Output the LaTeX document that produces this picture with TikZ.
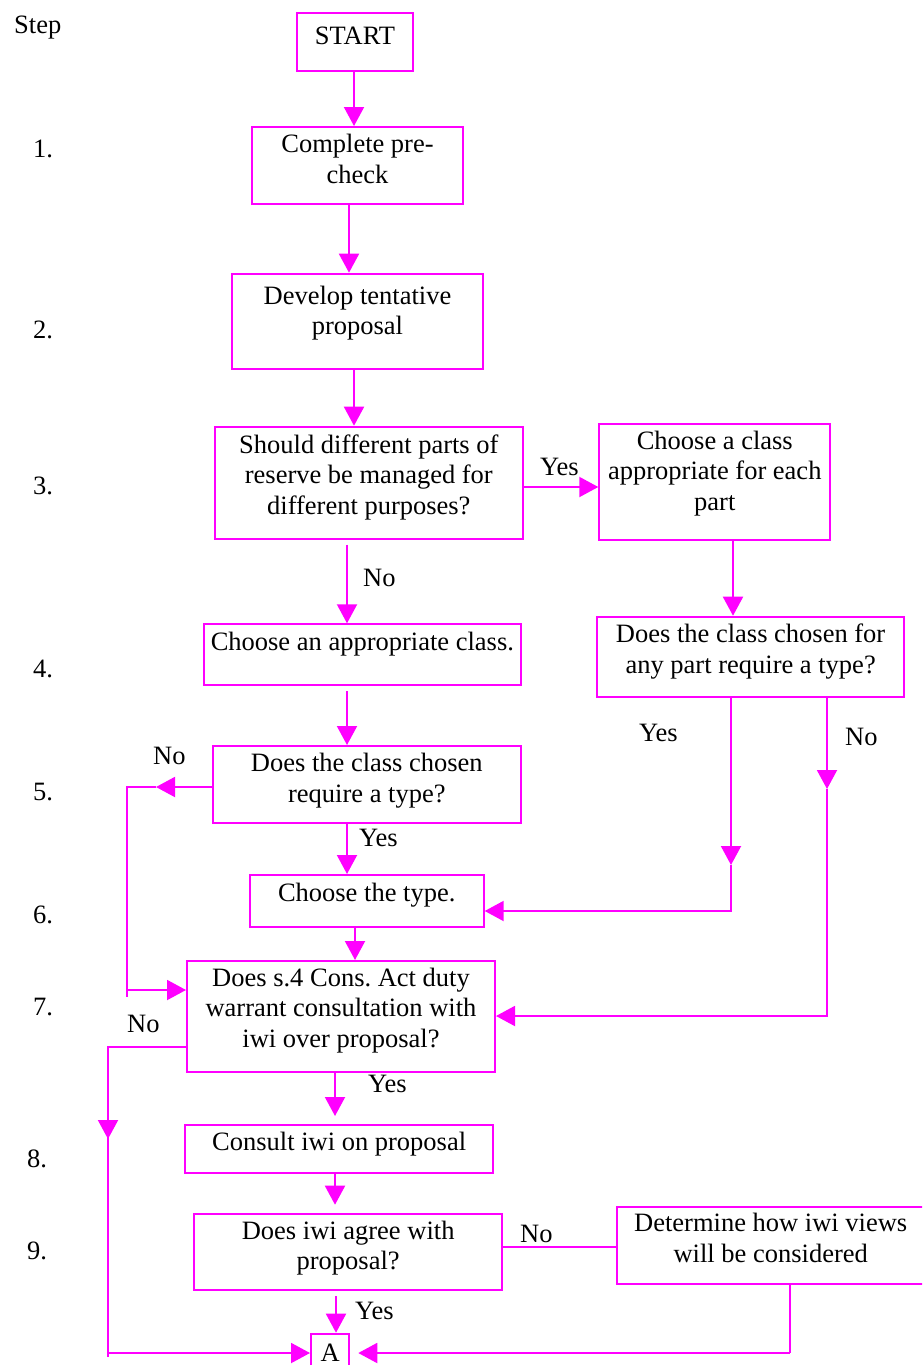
\documentclass[tikz,border=0pt]{standalone}
\usepackage{fontspec}
\setmainfont{Liberation Serif}
\usetikzlibrary{arrows.meta,calc}
\definecolor{mag}{RGB}{255,0,255}
\tikzset{
  boxst/.style={draw=mag, line width=2pt, inner sep=0pt, font=\fontsize{26.5}{30.5}\selectfont\frenchspacing},
  lbl/.style={anchor=base west, inner sep=0pt, font=\fontsize{26.5}{30.5}\selectfont},
  conn/.style={draw=mag, line width=2pt},
  arr/.style={conn, -{Triangle[length=19pt,width=20pt]}}
}
\newcommand\flowbox[7]{\node[boxst, anchor=north west] (#1) at (#2,#3) {\parbox[t][#5pt][t]{#4pt}{\centering\rule{0pt}{#6pt}#7}};}
\begin{document}
\begin{tikzpicture}[x=1pt,y=-1pt]
\useasboundingbox (0,0) rectangle (922,1365);
\clip (0,0) rectangle (922,1365);
% boxes
\flowbox{start}{296}{12.3}{116}{58}{31}{START}
\flowbox{pre}{250.7}{126}{211.6}{76.7}{25.7}{Complete pre-\\check}
\flowbox{dev}{231.2}{272.7}{250.5}{95.6}{30.6}{Develop tentative\\proposal}
\flowbox{q3}{214}{425.7}{307.7}{112}{26.3}{Should different parts of\\reserve be managed for\\different purposes?}
\flowbox{multi}{598.3}{423.3}{231}{115.7}{25}{Choose a class\\appropriate for each\\part}
\flowbox{cls}{202.7}{623.3}{317.3}{61}{26}{Choose an appropriate class.}
\flowbox{q4r}{596}{615.7}{307.3}{80.3}{26}{Does the class chosen for\\any part require a type?}
\flowbox{q5}{211.7}{745}{308.3}{76.7}{25.7}{Does the class chosen\\require a type?}
\flowbox{type}{248.7}{874}{234}{52}{26}{Choose the type.}
\flowbox{q7}{186}{960}{308}{110.7}{25}{Does s.4 Cons. Act duty\\warrant consultation with\\iwi over proposal?}
\flowbox{consult}{184}{1124}{308.3}{47.7}{25.3}{Consult iwi on proposal}
\flowbox{agree}{193.3}{1212.7}{307.7}{76.7}{25.6}{Does iwi agree with\\proposal?}
\flowbox{det}{615.7}{1205.7}{308}{77}{25}{Determine how iwi views\\will be considered}
\flowbox{A}{310}{1332.7}{38.3}{45}{27.5}{A}
% step labels
\node[lbl] (s0) at (14,33) {Step};
\node[lbl] (s1) at (33,157) {1.};
\node[lbl] (s2) at (33,338) {2.};
\node[lbl] (s3) at (33,494) {3.};
\node[lbl] (s4) at (33,677) {4.};
\node[lbl] (s5) at (33,800) {5.};
\node[lbl] (s6) at (33,923) {6.};
\node[lbl] (s7) at (33,1015) {7.};
\node[lbl] (s8) at (27,1167) {8.};
\node[lbl] (s9) at (27,1259) {9.};
% yes/no labels
\node[lbl] (l1) at (540,475) {Yes};
\node[lbl] (l2) at (363,586) {No};
\node[lbl] (l3) at (639,741) {Yes};
\node[lbl] (l4) at (845,745) {No};
\node[lbl] (l5) at (153,764) {No};
\node[lbl] (l6) at (359,846) {Yes};
\node[lbl] (l7) at (127,1032) {No};
\node[lbl] (l8) at (368,1092) {Yes};
\node[lbl] (l9) at (355,1319) {Yes};
\node[lbl] (l10) at (520,1242) {No};
% helper coordinates
\coordinate (y8) at (731,865);
\coordinate (y8b) at (731,911);
\coordinate (n9) at (827,789);
\coordinate (n9b) at (827,1016);
\coordinate (n10) at (156,787);
\coordinate (n10b) at (127,787);
\coordinate (n10c) at (127,997);
\coordinate (n10d) at (127,990);
\coordinate (n12) at (108,1047);
\coordinate (n12a) at (108,1139);
\coordinate (n12b) at (108,1357);
\coordinate (n12c) at (108,1353);
\coordinate (d17) at (790,1353);
% connectors
\draw[arr] (start.south -| 354,0) -- (pre.north -| 354,0);
\draw[arr] (pre.south -| 349,0) -- (dev.north -| 349,0);
\draw[arr] (dev.south -| 354,0) -- (q3.north -| 354,0);
\draw[arr] (q3.east |- 0,487) -- (multi.west |- 0,487);
\draw[arr, shorten <=5pt] (q3.south -| 347,0) -- (cls.north -| 347,0);
\draw[arr] (multi.south -| 733,0) -- (q4r.north -| 733,0);
\draw[arr, shorten <=5pt] (cls.south -| 347,0) -- (q5.north -| 347,0);
\draw[arr] (q5.south -| 347,0) -- (type.north -| 347,0);
\draw[arr] (q4r.south -| 731,0) -- (y8);
\draw[arr] (y8) -- (y8b) -- (type.east |- y8b);
\draw[arr] (q4r.south -| 827,0) -- (n9);
\draw[arr] (n9) -- (n9b) -- (q7.east |- n9b);
\draw[arr] (q5.west |- n10) -- (n10);
\draw[conn] (n10) -- (n10b) -- (n10c);
\draw[arr] (n10d) -- (q7.west |- n10d);
\draw[arr] (type.south -| 355,0) -- (q7.north -| 355,0);
\draw[conn] (q7.west |- n12) -- (n12) -- (n12b);
\draw[arr] (n12) -- (n12a);
\draw[arr] (n12c) -- (A.west |- n12c);
\draw[arr, shorten >=8pt] (q7.south -| 335,0) -- (consult.north -| 335,0);
\draw[arr, shorten >=8pt] (consult.south -| 335,0) -- (agree.north -| 335,0);
\draw[arr, shorten <=5pt] (agree.south -| 336,0) -- (A.north -| 336,0);
\draw[conn] (agree.east |- 0,1247) -- (det.west |- 0,1247);
\draw[conn] (det.south -| 790,0) -- (d17);
\draw[arr, shorten >=8pt] (d17) -- (A.east |- d17);
\end{tikzpicture}
\end{document}
